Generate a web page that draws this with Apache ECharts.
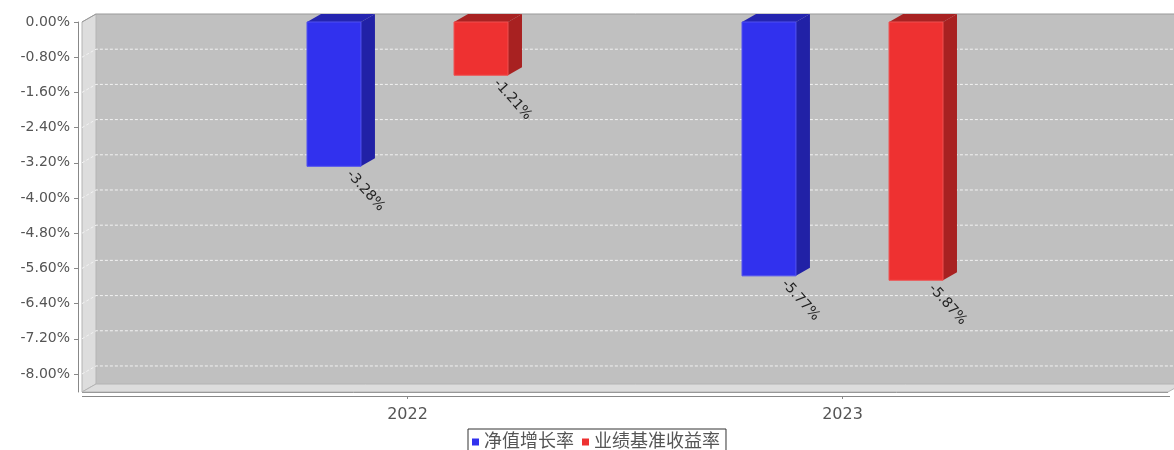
<!DOCTYPE html>
<html>
<head>
<meta charset="utf-8">
<script src="https://cdn.jsdelivr.net/npm/echarts@6/dist/echarts.min.js"></script>
<style>
html, body { margin: 0; padding: 0; background: #fff; }
#chart { width: 1174px; height: 450px; }
</style>
</head>
<body>
<div id="chart"></div>
<script>
var years = ['2022', '2023'];
var navGrowth = [-3.28, -5.77];
var benchmark = [-1.21, -5.87];
var seriesNames = ['净值增长率', '业绩基准收益率'];
var yTicks = [0, -0.8, -1.6, -2.4, -3.2, -4.0, -4.8, -5.6, -6.4, -7.2, -8.0];
var yMin = -8.41;

// the fake 3d box (front plane + depth offset)
var plotLeft = 82, plotRight = 1168, plotTop = 22, plotBottom = 392;
var dx = 14, dy = 8;
var gridLeft = 190, gridRight = 114;
var barShift = [-0.169, 0.169];
var barFrac = 0.124;
var font = 'DejaVu Sans, "Noto Sans CJK SC", sans-serif';

var faces = [
	{front: '#3131ee', side: '#2121a6', top: '#2424b0', edge: '#5050f0'},
	{front: '#ee3131', side: '#a82121', top: '#a82222', edge: '#f05050'}
];

function makeBar(k) {
	return function (params, api) {
		var cat = api.value(0), val = api.value(1);
		var band = api.size([1, 0])[0];
		var base = api.coord([cat, 0]);
		var end = api.coord([cat, val]);
		var w = band * barFrac;
		var cx = base[0] + band * barShift[k];
		var x0 = cx - w / 2, x1 = cx + w / 2;
		var y0 = base[1], y1 = end[1];
		var c = faces[k];
		return {
			type: 'group',
			children: [
				{type: 'polygon', shape: {points: [[x1, y0], [x1 + dx, y0 - dy], [x1 + dx, y1 - dy], [x1, y1]]}, style: {fill: c.side}},
				{type: 'polygon', shape: {points: [[x0, y0], [x0 + dx, y0 - dy], [x1 + dx, y0 - dy], [x1, y0]]}, style: {fill: c.top}},
				{type: 'rect', shape: {x: x0, y: y0, width: w, height: y1 - y0}, style: {fill: c.front, stroke: c.edge, lineWidth: 1}},
				{type: 'text', x: cx + 15, y: y1 + 6, rotation: -48 * Math.PI / 180,
					style: {text: val.toFixed(2) + '%', fill: '#222', fontSize: 14, fontFamily: font, align: 'left', verticalAlign: 'middle'}}
			]
		};
	};
}

function renderGridLine(params, api) {
	var y = api.coord([0, api.value(1)])[1];
	return {
		type: 'polyline',
		shape: {points: [[plotLeft, y], [plotLeft + dx, y - dy], [plotRight + dx, y - dy]]},
		style: {stroke: '#f2f2f2', lineWidth: 1, lineDash: [3, 2], fill: null}
	};
}

var chart = echarts.init(document.getElementById('chart'));

chart.setOption({
	animation: false,
	backgroundColor: '#fff',
	grid: {left: gridLeft, right: gridRight, top: plotTop, bottom: 450 - plotBottom},
	xAxis: {
		type: 'category',
		data: years,
		offset: 4,
		axisLine: {show: true, onZero: false, lineStyle: {color: 'rgba(0,0,0,0)'}},
		axisTick: {show: true, alignWithLabel: true, length: 3, lineStyle: {color: '#888'}},
		axisLabel: {color: '#555', fontSize: 16, fontFamily: font, margin: 11},
		splitLine: {show: false}
	},
	yAxis: {
		type: 'value',
		min: yMin,
		max: 0,
		offset: gridLeft - 78,
		axisLine: {show: true, onZero: false, lineStyle: {color: '#888'}},
		axisTick: {show: true, length: 4, customValues: yTicks, lineStyle: {color: '#888'}},
		axisLabel: {
			customValues: yTicks,
			color: '#555', fontSize: 14, fontFamily: font, margin: 8,
			formatter: function (v) { return v.toFixed(2) + '%'; }
		},
		splitLine: {show: false}
	},
	legend: {
		data: seriesNames,
		left: 468,
		top: 429,
		icon: 'rect',
		itemWidth: 7,
		itemHeight: 7,
		itemGap: 8,
		padding: [4, 6, 4, 4],
		borderColor: '#333',
		borderWidth: 1,
		textStyle: {color: '#555', fontSize: 18, fontFamily: font}
	},
	graphic: [
		{type: 'rect', z: -10, shape: {x: plotLeft + dx, y: plotTop - dy, width: plotRight - plotLeft, height: plotBottom - plotTop}, style: {fill: '#c0c0c0'}},
		{type: 'polygon', z: -9, shape: {points: [[plotLeft, plotTop], [plotLeft + dx, plotTop - dy], [plotLeft + dx, plotBottom - dy], [plotLeft, plotBottom]]}, style: {fill: '#dddddd', stroke: '#b4b4b4', lineWidth: 1}},
		{type: 'polygon', z: -9, shape: {points: [[plotLeft, plotBottom], [plotLeft + dx, plotBottom - dy], [plotRight + dx, plotBottom - dy], [plotRight, plotBottom]]}, style: {fill: '#dddddd', stroke: '#b4b4b4', lineWidth: 1}},
		{type: 'polyline', z: -8, shape: {points: [[plotLeft, plotTop], [plotLeft + dx, plotTop - dy], [plotRight + dx, plotTop - dy]]}, style: {stroke: '#999', lineWidth: 1, fill: null}},
		{type: 'line', z: -8, shape: {x1: plotLeft, y1: plotBottom + 0.5, x2: plotRight, y2: plotBottom + 0.5}, style: {stroke: '#999', lineWidth: 1}},
		{type: 'line', z: -8, shape: {x1: plotLeft, y1: plotBottom + 4.5, x2: plotRight + 2, y2: plotBottom + 4.5}, style: {stroke: '#888', lineWidth: 1}}
	],
	series: [
		{
			type: 'custom',
			name: 'grid',
			silent: true,
			clip: false,
			z: 1,
			renderItem: renderGridLine,
			data: yTicks.filter(function (v) { return v < 0; }).map(function (v) { return [0, v]; })
		},
		{
			type: 'custom',
			name: seriesNames[0],
			clip: false,
			itemStyle: {color: faces[0].front},
			renderItem: makeBar(0),
			encode: {x: 0, y: 1},
			data: years.map(function (y, i) { return [i, navGrowth[i]]; })
		},
		{
			type: 'custom',
			name: seriesNames[1],
			clip: false,
			itemStyle: {color: faces[1].front},
			renderItem: makeBar(1),
			encode: {x: 0, y: 1},
			data: years.map(function (y, i) { return [i, benchmark[i]]; })
		}
	]
});
</script>
</body>
</html>
